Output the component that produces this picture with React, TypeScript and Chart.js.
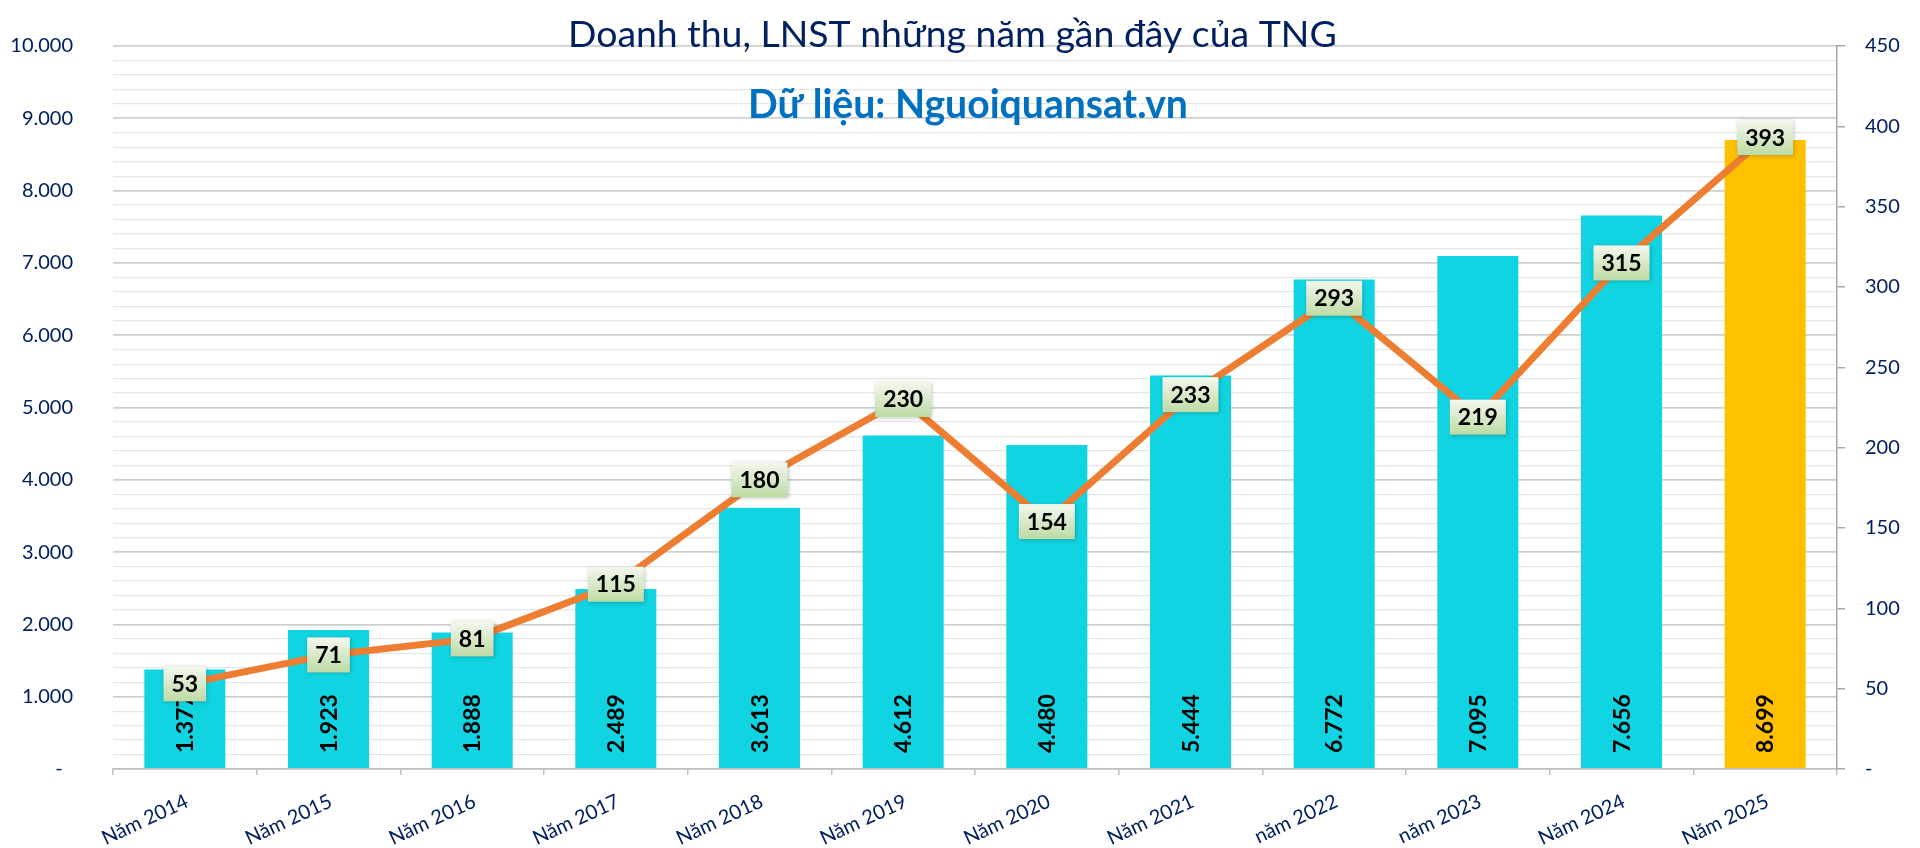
import React, { useEffect, useRef } from 'react';
import { Chart, registerables } from 'chart.js';

Chart.register(...registerables);

const categories = ['Năm 2014', 'Năm 2015', 'Năm 2016', 'Năm 2017', 'Năm 2018', 'Năm 2019', 'Năm 2020', 'Năm 2021', 'năm 2022', 'năm 2023', 'Năm 2024', 'Năm 2025'];
const revenue = [1377, 1923, 1888, 2489, 3613, 4612, 4480, 5444, 6772, 7095, 7656, 8699];
const profit = [53, 71, 81, 115, 180, 230, 154, 233, 293, 219, 315, 393];
const barColors = ['#10D4E1', '#10D4E1', '#10D4E1', '#10D4E1', '#10D4E1', '#10D4E1', '#10D4E1', '#10D4E1', '#10D4E1', '#10D4E1', '#10D4E1', '#FFC000'];
const titleText = 'Doanh thu, LNST những năm gần đây của TNG';
const subtitleText = 'Dữ liệu: Nguoiquansat.vn';
const leftMax = 10000;
const leftStep = 200;
const rightMax = 450;
const rightStep = 50;

const NAVY = '#002060';
const FONT = 'Lato';

const fmt = (v: number) => String(Math.round(v)).replace(/\B(?=(\d{3})+(?!\d))/g, '.');

function fitText(ctx: CanvasRenderingContext2D, text: string, weight: string, target: number) {
  ctx.font = `${weight} 40px ${FONT}`;
  const w = ctx.measureText(text).width;
  const size = (40 * target) / w;
  ctx.font = `${weight} ${size.toFixed(2)}px ${FONT}`;
}

const labelPlugin = {
  id: 'customLabels',
  afterDatasetsDraw(chart: any) {
    const ctx = chart.ctx as CanvasRenderingContext2D;
    const barMeta = chart.getDatasetMeta(1);
    const lineMeta = chart.getDatasetMeta(0);
    const bottom = chart.chartArea.bottom;
    ctx.save();
    ctx.font = `bold 23px ${FONT}`;
    ctx.fillStyle = '#000';
    barMeta.data.forEach((el: any, i: number) => {
      ctx.save();
      ctx.translate(el.x, bottom - 16);
      ctx.rotate(-Math.PI / 2);
      ctx.textAlign = 'left';
      ctx.textBaseline = 'alphabetic';
      ctx.fillText(fmt(revenue[i]), 0, 8);
      ctx.restore();
    });
    lineMeta.data.forEach((pt: any, i: number) => {
      const text = String(profit[i]);
      const w = ctx.measureText(text).width + 16;
      const h = 35;
      const x0 = pt.x - w / 2;
      const y0 = pt.y - h / 2;
      const g = ctx.createLinearGradient(0, y0, 0, y0 + h);
      g.addColorStop(0, '#F3F8EF');
      g.addColorStop(1, '#BDDAA3');
      ctx.save();
      ctx.shadowColor = 'rgba(0,0,0,0.22)';
      ctx.shadowBlur = 4;
      ctx.shadowOffsetX = 1;
      ctx.shadowOffsetY = 1;
      ctx.fillStyle = g;
      ctx.fillRect(x0, y0, w, h);
      ctx.restore();
      ctx.fillStyle = '#000';
      ctx.textAlign = 'center';
      ctx.textBaseline = 'alphabetic';
      ctx.fillText(text, pt.x, pt.y + 8);
    });
    ctx.restore();
  },
  afterDraw(chart: any) {
    const ctx = chart.ctx as CanvasRenderingContext2D;
    const xScale = chart.scales.x;
    ctx.save();
    ctx.font = `20px ${FONT}`;
    ctx.fillStyle = NAVY;
    categories.forEach((c, i) => {
      const x = xScale.getPixelForValue(i);
      ctx.save();
      ctx.translate(x + 5, xScale.top + 37);
      ctx.rotate((-25 * Math.PI) / 180);
      ctx.textAlign = 'right';
      ctx.textBaseline = 'alphabetic';
      ctx.fillText(c, 0, 0);
      ctx.restore();
    });
    ctx.textAlign = 'left';
    ctx.textBaseline = 'alphabetic';
    fitText(ctx, titleText, 'normal', 769);
    ctx.fillStyle = NAVY;
    ctx.fillText(titleText, 568, 47);
    fitText(ctx, subtitleText, 'bold', 440);
    ctx.fillStyle = '#0070C0';
    ctx.fillText(subtitleText, 748, 118);
    ctx.restore();
  },
};

export default function App() {
  const ref = useRef<HTMLCanvasElement | null>(null);
  useEffect(() => {
    let chart: Chart | null = null;
    let cancelled = false;
    const make = () => {
      if (cancelled || !ref.current) return;
      Chart.defaults.font.family = FONT;
      chart = new Chart(ref.current, {
        type: 'bar',
        data: {
          labels: categories,
          datasets: [
            {
              type: 'line',
              label: 'LNST',
              data: profit,
              yAxisID: 'y1',
              borderColor: '#ED7D31',
              borderWidth: 7,
              pointRadius: 0,
              tension: 0,
              borderJoinStyle: 'round',
              order: 0,
            } as any,
            {
              type: 'bar',
              label: 'Doanh thu',
              data: revenue,
              yAxisID: 'y',
              backgroundColor: barColors,
              barPercentage: 0.564,
              categoryPercentage: 1,
              order: 1,
            } as any,
          ],
        },
        options: {
          responsive: false,
          animation: false,
          devicePixelRatio: 1,
          layout: { padding: { top: 46, left: 0, right: 0, bottom: 0 } },
          plugins: { legend: { display: false }, tooltip: { enabled: false }, title: { display: false } },
          scales: {
            x: {
              offset: true,
              grid: { display: true, drawOnChartArea: false, drawTicks: true, tickLength: 6, color: '#BFBFBF', lineWidth: 1.5, offset: true },
              border: { display: true, color: '#BFBFBF', width: 1.5 },
              ticks: { display: false },
              afterFit: (s: any) => { s.height = 79; },
            },
            y: {
              position: 'left',
              min: 0,
              max: leftMax,
              border: { display: false },
              grid: {
                drawTicks: false,
                color: (c: any) => (c.tick && c.tick.value % 1000 === 0 ? '#CFCFCF' : '#E6E6E6'),
                lineWidth: (c: any) => (c.tick && c.tick.value % 1000 === 0 ? 1.8 : 1.2),
              },
              ticks: {
                stepSize: leftStep,
                autoSkip: false,
                maxTicksLimit: 1000,
                padding: 40,
                color: NAVY,
                font: { size: 20, family: FONT },
                callback: (v: any) => (Number(v) % 1000 === 0 ? (Number(v) === 0 ? '-  ' : fmt(Number(v))) : ''),
              },
              afterFit: (s: any) => { s.width = 113; s.paddingTop = 0; s.paddingBottom = 0; },
            },
            y1: {
              position: 'right',
              min: 0,
              max: rightMax,
              border: { display: true, color: '#A6A6A6', width: 1.5 },
              grid: { drawOnChartArea: false, drawTicks: true, tickLength: 8, color: '#A6A6A6', lineWidth: 1.5 },
              ticks: {
                stepSize: rightStep,
                autoSkip: false,
                padding: 20,
                color: NAVY,
                font: { size: 20, family: FONT },
                callback: (v: any) => (Number(v) === 0 ? '-' : String(v)),
              },
              afterFit: (s: any) => { s.width = 83; s.paddingTop = 0; s.paddingBottom = 0; },
            },
          },
        },
        plugins: [labelPlugin],
      });
    };
    const fonts = (document as any).fonts;
    if (fonts && fonts.load) {
      Promise.all([fonts.load(`20px ${FONT}`), fonts.load(`bold 22px ${FONT}`), fonts.load(`32px ${FONT}`)])
        .catch(() => null)
        .then(make);
    } else {
      make();
    }
    return () => {
      cancelled = true;
      if (chart) chart.destroy();
    };
  }, []);
  return (
    <div style={{ position: 'fixed', left: 0, top: 0, width: 1920, height: 848, background: '#fff' }}>
      <canvas ref={ref} width={1920} height={848} style={{ display: 'block' }} />
    </div>
  );
}
